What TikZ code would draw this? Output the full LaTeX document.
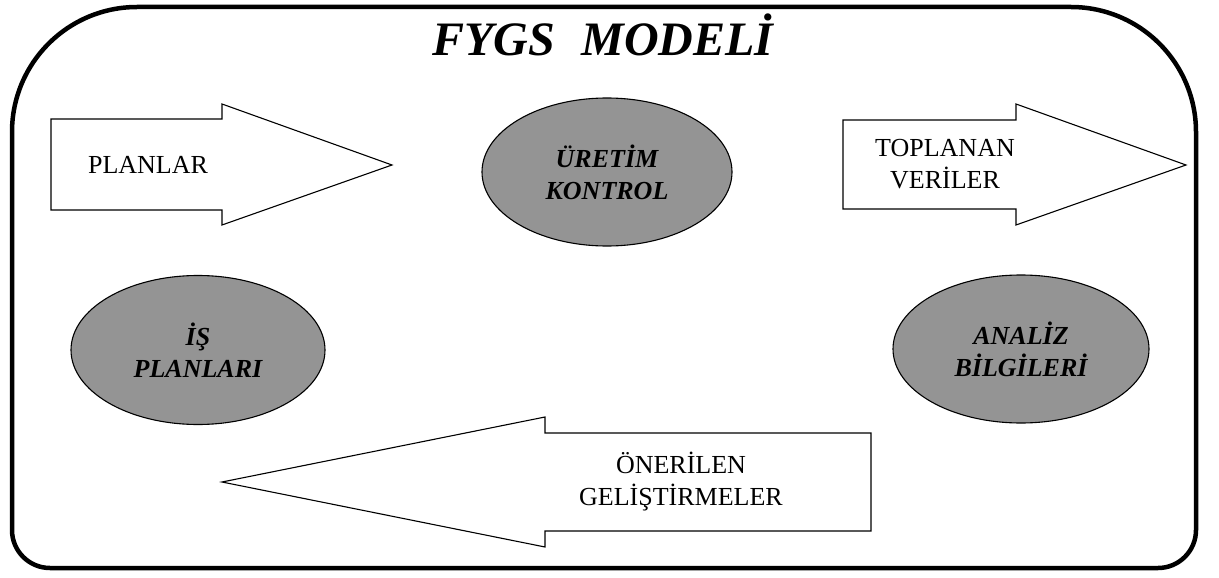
\documentclass[tikz,border=0pt]{standalone}
\usepackage{fontspec}
\setmainfont{Liberation Serif}
\usetikzlibrary{shapes.geometric}
\tikzset{
  frame/.style={line width=4.5pt, line join=round},
  bigarrow/.style={draw=black, fill=white, line width=1.1pt, line join=miter},
  arrowtext/.style={font=\fontsize{26}{32}\selectfont, align=center, inner sep=0pt},
  blob/.style={ellipse, draw=black, line width=1.1pt, fill=black!42, inner sep=0pt,
    font=\fontsize{26}{32}\selectfont\bfseries\itshape, align=center},
  titletext/.style={font=\fontsize{48}{56}\selectfont\bfseries\itshape, inner sep=0pt}
}
\begin{document}
\begin{tikzpicture}[x=1pt,y=-1pt]
\useasboundingbox (0,0) rectangle (1219,578);
% outer frame
\draw[frame] (12,132) .. controls (12,63) and (68,7) .. (137,7)
  -- (1071,7) .. controls (1140,7) and (1196,63) .. (1196,132)
  -- (1196,530) .. controls (1196,551) and (1179,568) .. (1158,568)
  -- (50,568) .. controls (29,568) and (12,551) .. (12,530) -- cycle;
% title
\node[titletext, anchor=base] (title) at (603,56) {FYGS\hspace{0.55em}MODELİ};
% arrows
\draw[bigarrow] (51,119) -- (222,119) -- (222,104) -- (392,165) -- (222,225)
  -- (222,210) -- (51,210) -- cycle;
\node[arrowtext] (planlar) at (148,165) {PLANLAR};
\draw[bigarrow] (843,120) -- (1016,120) -- (1016,104) -- (1186,165) -- (1016,225)
  -- (1016,209) -- (843,209) -- cycle;
\node[arrowtext] (toplanan) at (945,164) {TOPLANAN\\VERİLER};
\draw[bigarrow] (871,433) -- (545,433) -- (545,417) -- (222,482) -- (545,547)
  -- (545,531) -- (871,531) -- cycle;
\node[arrowtext] (oneri) at (681,482) {ÖNERİLEN\\GELİŞTİRMELER};
% ellipses
\node[blob, minimum width=250pt, minimum height=148pt] (uretim) at (607,172) {ÜRETİM\\KONTROL};
\node[blob, minimum width=254pt, minimum height=149pt] (isplan) at (198,350) {İŞ\\PLANLARI};
\node[blob, minimum width=256pt, minimum height=148pt] (analiz) at (1021,349) {ANALİZ\\BİLGİLERİ};
\end{tikzpicture}
\end{document}
